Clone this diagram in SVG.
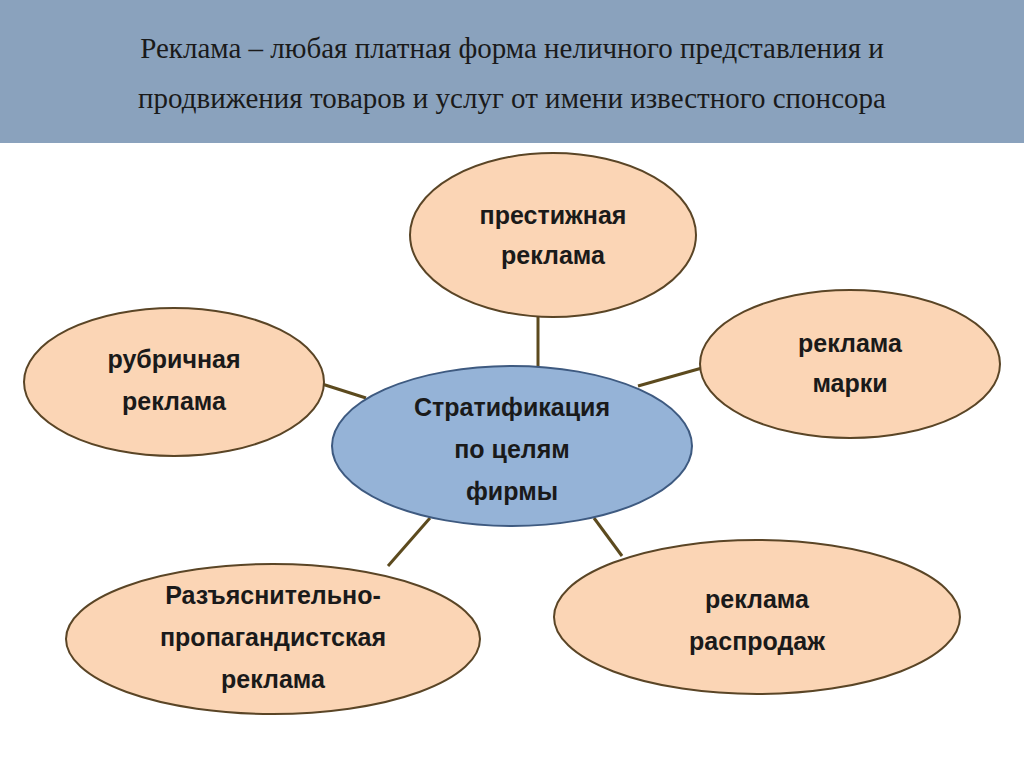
<svg xmlns="http://www.w3.org/2000/svg" width="1024" height="767" viewBox="0 0 1024 767">
<style>
.n{fill:#fbd5b5;stroke:#5a4526;stroke-width:2}
.c{fill:#95b3d7;stroke:#3e5a80;stroke-width:2}
.t{font-family:"Liberation Sans",Arial,sans-serif;font-weight:bold;font-size:25px;fill:#1a1a1a;text-anchor:middle}
.h{font-family:"Liberation Serif","Times New Roman",serif;font-size:29px;fill:#1a1a1a;text-anchor:middle}
#links line{stroke:#5c4a1e;stroke-width:3}
</style>
<rect x="0" y="0" width="1024" height="767" fill="#ffffff"/>
<rect x="0" y="0" width="1024" height="143" fill="#8aa2bd"/>
<text class="h" x="512" y="58">Реклама – любая платная форма неличного представления и</text>
<text class="h" x="512" y="108">продвижения товаров и услуг от имени известного спонсора</text>
<g id="links">
<line x1="538" y1="310" x2="538" y2="368"/>
<line x1="322" y1="384" x2="366" y2="398"/>
<line x1="638" y1="386" x2="702" y2="368"/>
<line x1="430" y1="518" x2="388" y2="566"/>
<line x1="594" y1="518" x2="622" y2="556"/>
</g>
<g id="top"><ellipse class="n" cx="553" cy="235" rx="143" ry="82"/>
<text class="t" x="553" y="224">престижная</text><text class="t" x="553" y="264">реклама</text></g>
<g id="left"><ellipse class="n" cx="174" cy="382" rx="150" ry="74"/>
<text class="t" x="174" y="368">рубричная</text><text class="t" x="174" y="410">реклама</text></g>
<g id="right"><ellipse class="n" cx="850" cy="364" rx="150" ry="74"/>
<text class="t" x="850" y="352">реклама</text><text class="t" x="850" y="392">марки</text></g>
<g id="center"><ellipse class="c" cx="512" cy="446" rx="180" ry="80"/>
<text class="t" x="512" y="416">Стратификация</text><text class="t" x="512" y="458">по целям</text><text class="t" x="512" y="500">фирмы</text></g>
<g id="bl"><ellipse class="n" cx="273" cy="639" rx="207" ry="75"/>
<text class="t" x="273" y="604">Разъяснительно-</text><text class="t" x="273" y="646">пропагандистская</text><text class="t" x="273" y="688">реклама</text></g>
<g id="br"><ellipse class="n" cx="757" cy="617" rx="203" ry="77"/>
<text class="t" x="757" y="608">реклама</text><text class="t" x="757" y="650">распродаж</text></g>
</svg>
